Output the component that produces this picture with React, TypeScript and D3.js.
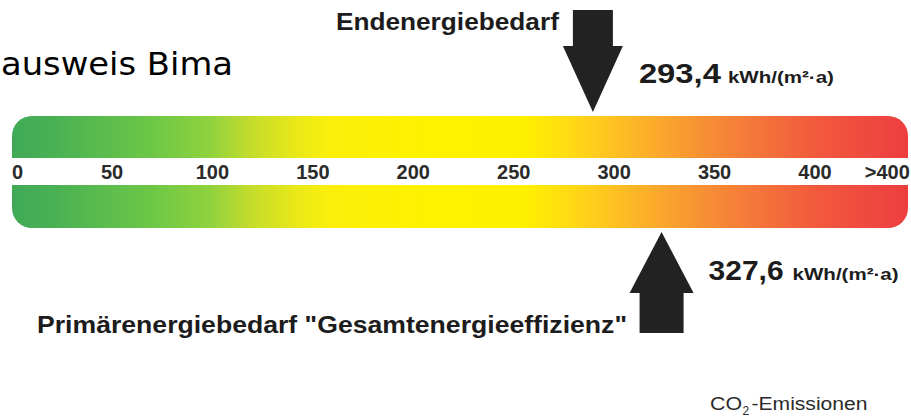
import React from "react";
import * as d3 from "d3";

// ---- data ----
const tickValues = [0, 50, 100, 150, 200, 250, 300, 350, 400];
const overflowLabel = ">400";
const markerNames = ["Endenergiebedarf", 'Primärenergiebedarf "Gesamtenergieeffizienz"'];
const markerValues = [293.4, 327.6];
const unitLabel = "kWh/(m²·a)";
const titleText = "ausweis Bima";
const co2Parts = ["CO", "2", "-Emissionen"];

// ---- layout / style constants ----
const W = 911;
const H = 418;
const BAR_LEFT = 12;
const BAR_RIGHT = 908;
const BAR_TOP = 116;
const BAND_TOP = 158;
const BAND_BOTTOM = 185;
const BAR_BOTTOM = 228;
const RADIUS = 20;
const OVERFLOW_AT = 436;
const ARROW_COLOR = "#222222";
const TEXT_COLOR = "#1c1c1c";
const gradientStops: [number, string][] = [
  [12, "#3fa957"],
  [60, "#4bb253"],
  [150, "#6cc746"],
  [210, "#8fd23e"],
  [250, "#c3dc2c"],
  [292, "#e6e71a"],
  [330, "#fbef0b"],
  [420, "#fff200"],
  [525, "#fff000"],
  [565, "#ffdd12"],
  [605, "#ffc61f"],
  [650, "#fbad2a"],
  [700, "#f79233"],
  [760, "#f4743a"],
  [820, "#f1583c"],
  [880, "#ee4640"],
  [908, "#ec3d3f"],
];

const fmt = d3.formatLocale({ decimal: ",", thousands: ".", grouping: [3], currency: ["", "€"] }).format(".1f");

export default function App() {
  const x = d3.scaleLinear().domain([0, 400]).range([3.6, 807]);

  const barPath = (() => {
    const p = d3.path();
    const l = BAR_LEFT, r = BAR_RIGHT, t = BAR_TOP, b = BAR_BOTTOM, rr = RADIUS;
    p.moveTo(l + rr, t);
    p.lineTo(r - rr, t);
    p.arcTo(r, t, r, t + rr, rr);
    p.lineTo(r, b - rr);
    p.arcTo(r, b, r - rr, b, rr);
    p.lineTo(l + rr, b);
    p.arcTo(l, b, l, b - rr, rr);
    p.lineTo(l, t + rr);
    p.arcTo(l, t, l + rr, t, rr);
    p.closePath();
    return p.toString();
  })();

  const downArrow = (cx: number) => {
    const p = d3.path();
    const tipY = 112, headY = 46, topY = 10, hw = 30, sw = 20;
    p.moveTo(cx - sw, topY);
    p.lineTo(cx + sw, topY);
    p.lineTo(cx + sw, headY);
    p.lineTo(cx + hw, headY);
    p.lineTo(cx, tipY);
    p.lineTo(cx - hw, headY);
    p.lineTo(cx - sw, headY);
    p.closePath();
    return p.toString();
  };

  const upArrow = (cx: number) => {
    const p = d3.path();
    const tipY = 232, headY = 293, botY = 333, hw = 32, sw = 22;
    p.moveTo(cx, tipY);
    p.lineTo(cx + hw, headY);
    p.lineTo(cx + sw, headY);
    p.lineTo(cx + sw, botY);
    p.lineTo(cx - sw, botY);
    p.lineTo(cx - sw, headY);
    p.lineTo(cx - hw, headY);
    p.closePath();
    return p.toString();
  };

  const topX = x(markerValues[0]);
  const botX = x(markerValues[1]);
  const bold = "'Liberation Sans', Arial, sans-serif";

  return (
    <svg
      width={W}
      height={H}
      viewBox={`0 0 ${W} ${H}`}
      style={{ position: "absolute", left: 0, top: 0, display: "block", background: "#ffffff" }}
    >
      <defs>
        <linearGradient id="scaleGrad" gradientUnits="userSpaceOnUse" x1={BAR_LEFT} x2={BAR_RIGHT} y1={0} y2={0}>
          {gradientStops.map(([px, c], i) => (
            <stop key={i} offset={(px - BAR_LEFT) / (BAR_RIGHT - BAR_LEFT)} stopColor={c} />
          ))}
        </linearGradient>
      </defs>
      <rect x={0} y={0} width={W} height={H} fill="#ffffff" />

      {/* title fragment */}
      <text
        x={1}
        y={75}
        fontFamily="'DejaVu Sans', Verdana, sans-serif"
        fontSize={32}
        textLength={232}
        lengthAdjust="spacingAndGlyphs"
        fill="#000"
      >
        {titleText}
      </text>

      {/* colour scale */}
      <path d={barPath} fill="url(#scaleGrad)" />
      <rect x={BAR_LEFT - 1} y={BAND_TOP} width={BAR_RIGHT - BAR_LEFT + 2} height={BAND_BOTTOM - BAND_TOP} fill="#ffffff" />

      {tickValues.map((v, i) => (
        <text
          key={v}
          x={i === 0 ? BAR_LEFT : x(v) + 8}
          y={179}
          textAnchor={i === 0 ? "start" : "middle"}
          fontFamily={bold}
          fontWeight="bold"
          fontSize={20}
          fill="#2a2a2a"
        >
          {String(v)}
        </text>
      ))}
      <text x={x(OVERFLOW_AT) + 8} y={179} textAnchor="middle" fontFamily={bold} fontWeight="bold" fontSize={20} fill="#2a2a2a">
        {overflowLabel}
      </text>

      {/* Endenergiebedarf */}
      <path d={downArrow(topX)} fill={ARROW_COLOR} />
      <text x={topX - 34} y={29.5} textAnchor="end" fontFamily={bold} fontWeight="bold" fontSize={23}
        textLength={223} lengthAdjust="spacingAndGlyphs" fill={TEXT_COLOR}>
        {markerNames[0]}
      </text>
      <text x={topX + 46} y={83} fontFamily={bold} fontWeight="bold" fontSize={28}
        textLength={82} lengthAdjust="spacingAndGlyphs" fill={TEXT_COLOR}>
        {fmt(markerValues[0])}
      </text>
      <text x={topX + 135} y={83} fontFamily={bold} fontWeight="bold" fontSize={17}
        textLength={106} lengthAdjust="spacingAndGlyphs" fill={TEXT_COLOR}>
        {unitLabel}
      </text>

      {/* Primärenergiebedarf */}
      <path d={upArrow(botX)} fill={ARROW_COLOR} />
      <text x={botX + 47} y={279.5} fontFamily={bold} fontWeight="bold" fontSize={27}
        textLength={75} lengthAdjust="spacingAndGlyphs" fill={TEXT_COLOR}>
        {fmt(markerValues[1])}
      </text>
      <text x={botX + 131} y={279.5} fontFamily={bold} fontWeight="bold" fontSize={17}
        textLength={106} lengthAdjust="spacingAndGlyphs" fill={TEXT_COLOR}>
        {unitLabel}
      </text>
      <text x={37} y={332.5} fontFamily={bold} fontWeight="bold" fontSize={24}
        textLength={590} lengthAdjust="spacingAndGlyphs" fill={TEXT_COLOR}>
        {markerNames[1]}
      </text>

      {/* CO2 */}
      <text x={710} y={409.5} fontFamily={bold} fontSize={18} textLength={32} lengthAdjust="spacingAndGlyphs" fill="#2a2a2a">
        {co2Parts[0]}
      </text>
      <text x={742.5} y={414.5} fontFamily={bold} fontSize={12} fill="#2a2a2a">
        {co2Parts[1]}
      </text>
      <text x={751.5} y={409.5} fontFamily={bold} fontSize={18} textLength={116} lengthAdjust="spacingAndGlyphs" fill="#2a2a2a">
        {co2Parts[2]}
      </text>
    </svg>
  );
}
